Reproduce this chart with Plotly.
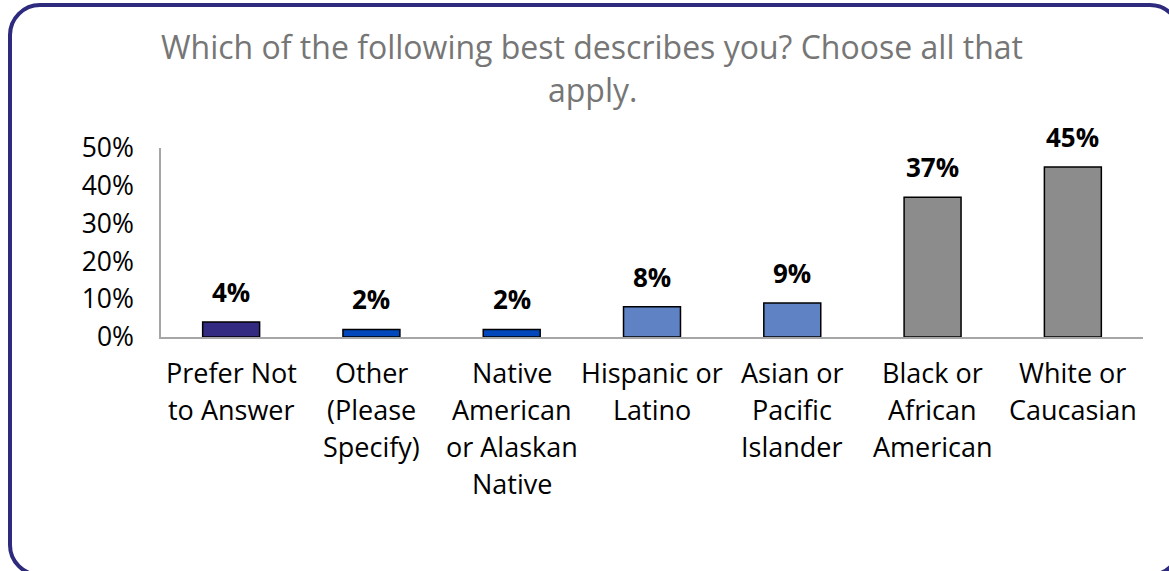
import plotly.graph_objects as go

# Survey responses (share of respondents, multiple answers allowed)
categories = [
    "Prefer Not|to Answer",
    "Other|(Please|Specify)",
    "Native|American|or Alaskan|Native",
    "Hispanic or|Latino",
    "Asian or|Pacific|Islander",
    "Black or|African|American",
    "White or|Caucasian",
]
values = [0.04, 0.02, 0.02, 0.08, 0.09, 0.37, 0.45]
bar_colors = ["#332B82", "#0047BB", "#0047BB", "#5F82C5", "#5F82C5", "#8C8C8C", "#8C8C8C"]
y_ticks = [0.0, 0.1, 0.2, 0.3, 0.4, 0.5]
title_lines = ["Which of the following best describes you? Choose all that", "apply."]

FONT = "Open Sans"
W, H = 1169, 571
M_L, M_R, M_T, M_B = 161, 26, 148, 234
PLOT_H = H - M_T - M_B


def paper_y(px):
    """Convert a pixel row (from the top of the page) into paper y."""
    return (H - M_B - px) / PLOT_H


def paper_x(px):
    return (px - M_L) / (W - M_L - M_R)


fig = go.Figure(
    go.Bar(
        x=list(range(len(categories))),
        y=values,
        marker=dict(color=bar_colors, line=dict(color="#000000", width=1.5)),
        hoverinfo="skip",
    )
)

annotations = []

# value labels above the bars
LABEL_SIZE = 26
for i, v in enumerate(values):
    annotations.append(dict(
        x=i, y=v, xref="x", yref="y", text=f"<b>{round(v * 100)}%</b>",
        showarrow=False, yanchor="bottom", yshift=10,
        font=dict(family=FONT, size=LABEL_SIZE, color="#000000"),
    ))

# multi-line category labels under the axis
LINE_1, LINE_STEP, TICK_SIZE = 383, 37, 27
for i, cat in enumerate(categories):
    for j, line in enumerate(cat.split("|")):
        base = LINE_1 + j * LINE_STEP
        annotations.append(dict(
            x=i, xref="x", y=paper_y(base + 0.29 * TICK_SIZE + 2), yref="paper",
            text=line, showarrow=False, yanchor="bottom", xanchor="center",
            font=dict(family=FONT, size=TICK_SIZE, color="#000000"),
        ))

# chart title
TITLE_SIZE = 32
for j, line in enumerate(title_lines):
    base = 59 + j * 43
    annotations.append(dict(
        x=paper_x(592), xref="paper", y=paper_y(base + 0.29 * TITLE_SIZE + 2), yref="paper",
        text=line, showarrow=False, yanchor="bottom", xanchor="center",
        font=dict(family=FONT, size=TITLE_SIZE, color="#767676"),
    ))

# rounded frame around the chart (right and bottom edges run past the page)
x0, x1 = paper_x(10), paper_x(1180)
y0, y1 = paper_y(575), paper_y(5)
r = 30
rx = r / (W - M_L - M_R)
ry = r / PLOT_H
k = 0.45
frame = (
    f"M {x0 + rx},{y1} L {x1 - rx},{y1} "
    f"C {x1 - rx * k},{y1} {x1},{y1 - ry * k} {x1},{y1 - ry} "
    f"L {x1},{y0 + ry} "
    f"C {x1},{y0 + ry * k} {x1 - rx * k},{y0} {x1 - rx},{y0} "
    f"L {x0 + rx},{y0} "
    f"C {x0 + rx * k},{y0} {x0},{y0 + ry * k} {x0},{y0 + ry} "
    f"L {x0},{y1 - ry} "
    f"C {x0},{y1 - ry * k} {x0 + rx * k},{y1} {x0 + rx},{y1} Z"
)

fig.update_layout(
    width=W, height=H,
    margin=dict(l=M_L, r=M_R, t=M_T, b=M_B),
    paper_bgcolor="#FFFFFF", plot_bgcolor="#FFFFFF",
    bargap=0.594,
    showlegend=False,
    annotations=annotations,
    shapes=[dict(type="path", path=frame, xref="paper", yref="paper",
                 line=dict(color="#2E2A7E", width=4), layer="above")],
    xaxis=dict(
        range=[-0.5, len(categories) - 0.5],
        showticklabels=False, showgrid=False, zeroline=False,
        showline=True, linecolor="#A6A6A6", linewidth=1.5, ticks="",
        fixedrange=True,
    ),
    yaxis=dict(
        range=[0, 0.5], tickvals=y_ticks, tickformat=".0%",
        showgrid=False, zeroline=False, showline=True,
        linecolor="#A6A6A6", linewidth=1.5, ticks="",
        ticklabelstandoff=20,
        tickfont=dict(family=FONT, size=26.5, color="#000000"),
        fixedrange=True,
    ),
)

fig.write_html("out.html", config={"displayModeBar": False})
